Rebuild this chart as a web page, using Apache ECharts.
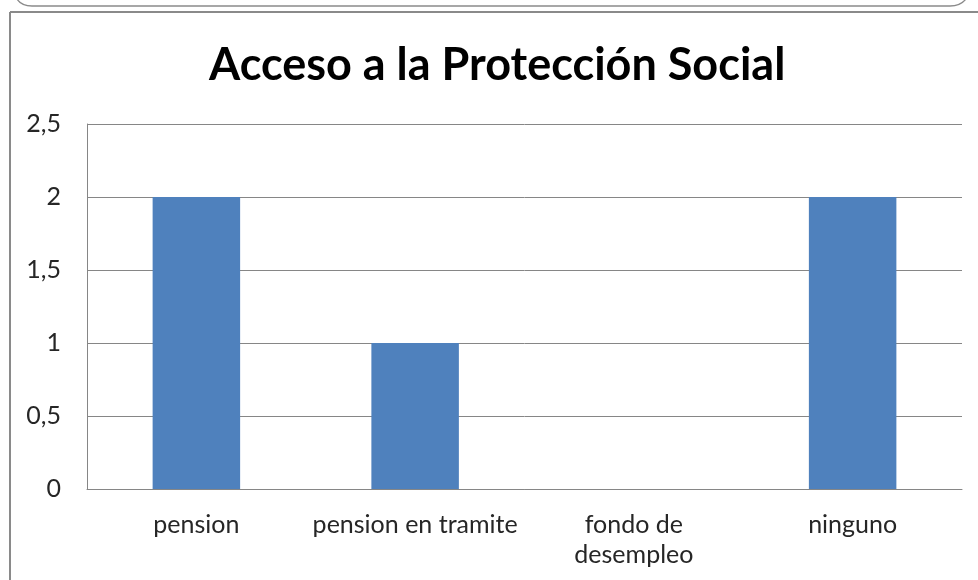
<!DOCTYPE html>
<html><head><meta charset="utf-8">
<script src="https://cdn.jsdelivr.net/npm/echarts@6/dist/echarts.min.js"></script>
<style>html,body{margin:0;padding:0;background:#fff}#c{width:978px;height:580px}</style>
</head><body><div id="c"></div>
<script>
var categories = ['pension', 'pension en tramite', 'fondo de\ndesempleo', 'ninguno'];
var values = [2, 1, 0, 2];
var yTicks = [0, 0.5, 1, 1.5, 2, 2.5];
var titleText = 'Acceso a la Protección Social';

var chart = echarts.init(document.getElementById('c'));
chart.setOption({
  backgroundColor: '#fff',
  animation: false,
  title: {
    text: titleText, left: 204, top: 38,
    textStyle: { fontFamily: 'Lato', fontWeight: 'bold', fontSize: 45, color: '#000' }
  },
  graphic: [
    { type: 'line', shape: { x1: 10, y1: 12, x2: 978, y2: 12 }, style: { stroke: '#8a8a8a', lineWidth: 2 } },
    { type: 'line', shape: { x1: 10, y1: 12, x2: 10, y2: 580 }, style: { stroke: '#8a8a8a', lineWidth: 2 } },
    { type: 'line', shape: { x1: 32, y1: 6, x2: 950, y2: 6 }, style: { stroke: '#8a8a8a', lineWidth: 1.3 } },
    { type: 'bezierCurve', shape: { x1: 14, y1: -10, cpx1: 16, cpy1: 6, x2: 32, y2: 6 }, style: { stroke: '#8a8a8a', lineWidth: 1.3, fill: null } },
    { type: 'bezierCurve', shape: { x1: 950, y1: 6, cpx1: 966, cpy1: 6, x2: 970, y2: -10 }, style: { stroke: '#8a8a8a', lineWidth: 1.3, fill: null } }
  ],
  grid: { left: 87, right: 16, top: 124, bottom: 91 },
  xAxis: {
    type: 'category', data: categories,
    axisLine: { lineStyle: { color: '#868686', width: 1 } },
    axisTick: { show: false },
    axisLabel: { interval: 0, hideOverlap: false, fontFamily: 'Lato', fontSize: 25, color: '#262626', margin: 21, lineHeight: 30 }
  },
  yAxis: {
    type: 'value', min: 0, max: 2.5, interval: 0.5,
    axisLine: { show: true, lineStyle: { color: '#868686' } },
    axisTick: { show: false },
    splitLine: { lineStyle: { color: '#868686' } },
    axisLabel: {
      fontFamily: 'Lato', fontSize: 25, color: '#262626', margin: 26,
      formatter: function (v) { return String(v).replace('.', ','); }
    }
  },
  series: [{
    type: 'bar', data: values, barWidth: '40%',
    itemStyle: { color: '#4f81bd' }
  }]
});
</script></body></html>
